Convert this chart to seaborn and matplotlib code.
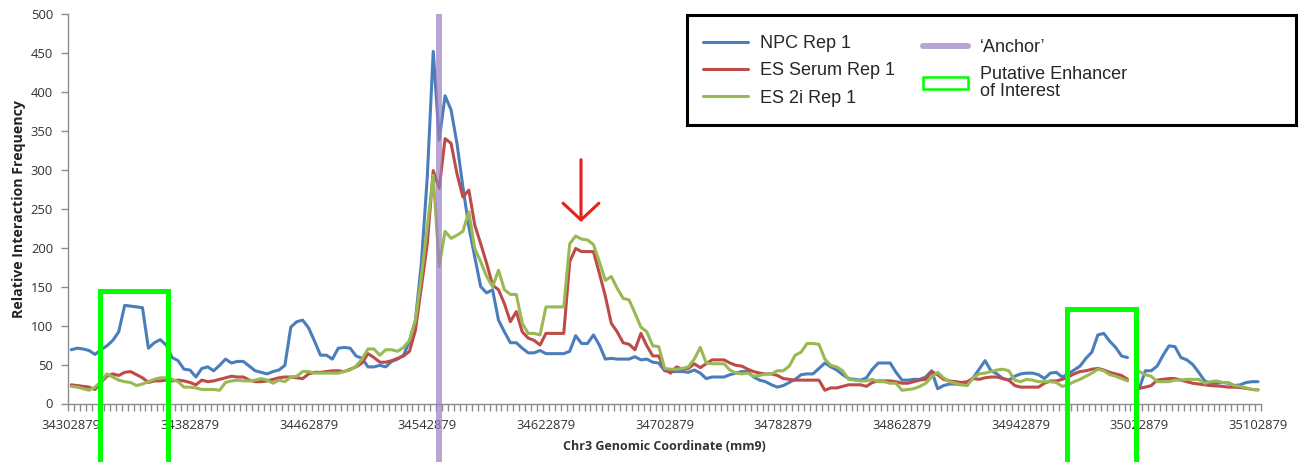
import numpy as np
import pandas as pd
import seaborn as sns
import matplotlib.pyplot as plt
from matplotlib.lines import Line2D
from matplotlib.patches import Patch, Rectangle

nan = np.nan

# genomic bins (4 kb steps starting at the first label)
start = 34302879
step = 4000

npc_rep1 = [
    69, 71, 70, 68, 63, 69, 74, 81, 92, 126,
    125, 124, 123, 71, 78, 82, 75, 59, 55, 44,
    43, 34, 45, 47, 42, 49, 57, 52, 54, 54,
    48, 42, 40, 38, 41, 43, 49, 98, 105, 107,
    97, 80, 62, 62, 57, 71, 72, 71, 61, 58,
    47, 47, 49, 47, 54, 57, 62, 80, 107, 180,
    291, 452, 338, 395, 377, 334, 278, 227, 188, 150,
    142, 146, 107, 92, 78, 78, 71, 65, 65, 68,
    64, 64, 64, 64, 67, 87, 77, 77, 88, 75,
    57, 58, 57, 57, 57, 60, 56, 57, 53, 52,
    42, 41, 41, 41, 40, 43, 39, 32, 34, 34,
    34, 37, 39, 41, 41, 34, 30, 28, 24, 21,
    23, 27, 31, 37, 38, 38, 45, 52, 47, 43,
    37, 32, 31, 30, 33, 44, 52, 52, 52, 40,
    30, 30, 31, 31, 34, 42, 19, 23, 25, 25,
    24, 27, 33, 44, 55, 42, 38, 32, 30, 35,
    38, 39, 39, 37, 32, 39, 40, 34, 38, 43,
    48, 58, 66, 88, 90, 80, 72, 61, 59, nan,
    19.5, 42, 42, 48, 62, 74, 73, 59, 56, 50,
    40, 29, 26, 26, 27, 26, 23, 24, 27, 28, 28,
]

es_serum_rep1 = [
    24, 23, 22, 21, 18, 27, 35, 38, 36, 40,
    41, 37, 33, 27, 29, 29, 30, 29, 30, 29,
    27, 24, 30, 28, 29, 31, 33, 35, 34, 34,
    30, 28, 28, 29, 31, 33, 34, 34, 33, 32,
    38, 40, 40, 41, 42, 42, 41, 44, 47, 52,
    64, 59, 53, 53, 55, 58, 61, 67, 94, 150,
    205, 299, 276, 340, 334, 295, 265, 274, 229, 205,
    180, 152, 146, 128, 105, 118, 92, 84, 81, 75,
    90, 90, 90, 90, 182, 199, 195, 195, 195, 167,
    138, 103, 92, 78, 76, 69, 90, 74, 61, 61,
    44, 39, 47, 44, 45, 51, 46, 51, 56, 56,
    56, 52, 49, 48, 44, 41, 39, 38, 38, 36,
    32, 31, 30, 30, 30, 30, 30, 17, 20, 20,
    22, 24, 24, 24, 22, 27, 29, 29, 29, 28,
    26, 26, 28, 30, 31, 41, 37, 31, 29, 28,
    27, 28, 32, 31, 33, 34, 34, 32, 30, 23,
    21, 21, 21, 21, 26, 29, 29, 31, 34, 38,
    41, 42, 44, 45, 43, 40, 38, 36, 31, nan,
    19.5, 21, 23, 30, 31, 32, 32, 30, 28, 26,
    25, 24, 23, 22.5, 22, 21, 21, 20.5, 19.5, 18, 17.5,
]

es_2i_rep1 = [
    22, 21, 19, 17, 21, 28, 38, 34, 30, 28,
    27, 23, 25, 28, 31, 33, 33, 31, 28, 21,
    21, 20, 18, 18, 18, 17, 27, 29, 30, 29,
    29, 30, 32, 30, 26, 30, 28, 34, 35, 41,
    41, 39, 39, 39, 39, 39, 41, 43, 48, 57,
    70, 70, 62, 69, 69, 67, 72, 81, 107, 163,
    227, 293, 176, 221, 212, 216, 221, 246, 199, 182,
    163, 150, 171, 146, 140, 140, 103, 90, 90, 88,
    124, 124, 124, 124, 205, 215, 211, 210, 204, 182,
    158, 163, 148, 135, 133, 116, 98, 92, 74, 73,
    45, 44, 44, 45, 47, 57, 72, 52, 51, 51,
    51, 43, 39, 38, 39, 35, 36, 38, 38, 42,
    42, 48, 62, 66, 77, 77, 76, 57, 49, 47,
    42, 31, 30, 29, 29, 31, 28, 28, 26, 26,
    17, 18, 19, 22, 26, 34, 40, 33, 28, 26,
    24, 23, 33, 38, 39, 41, 43, 44, 42, 30,
    28, 31, 30, 28, 28, 28, 27, 22, 24, 28,
    31, 35, 39, 44, 42, 37, 35, 32, 29, nan,
    41, 37, 35, 28, 28, 28, 30, 30, 31, 31,
    31, 26, 28, 29, 27, 27, 23, 22, 20, 18, 17.5,
]

series_names = ['NPC Rep 1', 'ES Serum Rep 1', 'ES 2i Rep 1']
series_colors = ['#4a7ebb', '#be4b48', '#98b954']

anchor = 34550879
# (left, right, top) of the putative enhancer boxes
enhancers = [(34322000, 34368000, 145), (34974000, 35020500, 121)]
arrow_x = 34646479
arrow_top, arrow_tip = 313, 233

label_step = 80000

sns.set_style('white')
plt.rcParams['font.family'] = ['Open Sans', 'DejaVu Sans']

coords = start + step * np.arange(len(npc_rep1))
wide = pd.DataFrame({'coord': coords,
                     'NPC Rep 1': npc_rep1,
                     'ES Serum Rep 1': es_serum_rep1,
                     'ES 2i Rep 1': es_2i_rep1})
df = wide.melt(id_vars='coord', var_name='sample', value_name='freq')
# missing bins break the line
df['segment'] = df.groupby('sample')['freq'].transform(lambda s: s.isna().cumsum())
df = df.dropna()

W, H = 1308, 462
fig = plt.figure(figsize=(W / 100, H / 100), dpi=100)
ax = fig.add_axes([68.3 / W, 1 - 403.5 / H, (1261 - 68.3) / W, 389.5 / H])

sns.lineplot(data=df, x='coord', y='freq', hue='sample', hue_order=series_names,
             palette=series_colors, units='segment', estimator=None,
             lw=2.2, legend=False, ax=ax)

ax.set_xlim(start - step / 2, coords[-1] + step / 2)
ax.set_ylim(0, 500)

major = np.arange(start, coords[-1] + 1, label_step)
ax.set_xticks(major)
ax.set_xticklabels([str(v) for v in major])
ax.set_xticks(np.arange(start - step / 2, coords[-1] + step, step), minor=True)
ax.set_yticks(range(0, 501, 50))

ax.tick_params(axis='both', which='both', bottom=True, left=True)
ax.tick_params(axis='x', which='major', length=0, pad=11, labelsize=9.4, labelcolor='#333333')
ax.tick_params(axis='x', which='minor', length=5, width=1, color='#8c8c8c')
ax.tick_params(axis='y', length=5, width=1, color='#8c8c8c', pad=6, labelsize=9.4,
               labelcolor='#333333')

for side in ['top', 'right']:
    ax.spines[side].set_visible(False)
for side in ['left', 'bottom']:
    ax.spines[side].set_color('#8c8c8c')
    ax.spines[side].set_linewidth(1)

ax.set_xlabel('Chr3 Genomic Coordinate (mm9)', fontweight='bold', fontsize=9,
              color='#333333', labelpad=6)
ax.set_ylabel('Relative Interaction Frequency', fontweight='bold', fontsize=10.2,
              color='#222222', labelpad=3.5)

# anchor bar
purple = '#9b7fc2'
ax.axvline(anchor, ymin=-0.2, ymax=1, color=purple, alpha=0.7, lw=4.3,
           solid_capstyle='butt', clip_on=False, zorder=3)

# enhancer boxes, open at the bottom of the figure
for x0, x1, top in enhancers:
    ax.add_patch(Rectangle((x0, -100), x1 - x0, top + 100, fill=False,
                           edgecolor='#00ff00', lw=3.6, clip_on=False, zorder=4))

ax.annotate('', xy=(arrow_x, arrow_tip), xytext=(arrow_x, arrow_top),
            arrowprops=dict(arrowstyle='->,head_length=0.4,head_width=0.43',
                            color='#e8201c', lw=2.2, mutation_scale=30,
                            shrinkA=0, shrinkB=0))

legend_kw = dict(loc='upper left', frameon=False, borderpad=0, borderaxespad=0,
                 handlelength=2.5, handletextpad=0.65, labelspacing=0.57,
                 prop={'family': 'Liberation Sans', 'size': 13})

series_handles = [Line2D([], [], color=c, lw=2.2) for c in series_colors]
fig.legend(series_handles, series_names, bbox_to_anchor=(703 / W, 1 - 35 / H), **legend_kw)

extra_handles = [Line2D([], [], color=purple, alpha=0.7, lw=4.3),
                 Patch(facecolor='white', edgecolor='#00ff00', lw=1.8)]
extra_labels = ['\u2018Anchor\u2019', 'Putative Enhancer\nof Interest']
leg2 = fig.legend(extra_handles, extra_labels, bbox_to_anchor=(923 / W, 1 - 39 / H),
                  **legend_kw)
for t in leg2.get_texts():
    t.set_linespacing(0.95)

fig.add_artist(Rectangle((687 / W, 1 - 125 / H), 609 / W, 110 / H,
                         transform=fig.transFigure, fill=False,
                         edgecolor='black', lw=2.2))

fig.savefig('out.png', dpi=100)
